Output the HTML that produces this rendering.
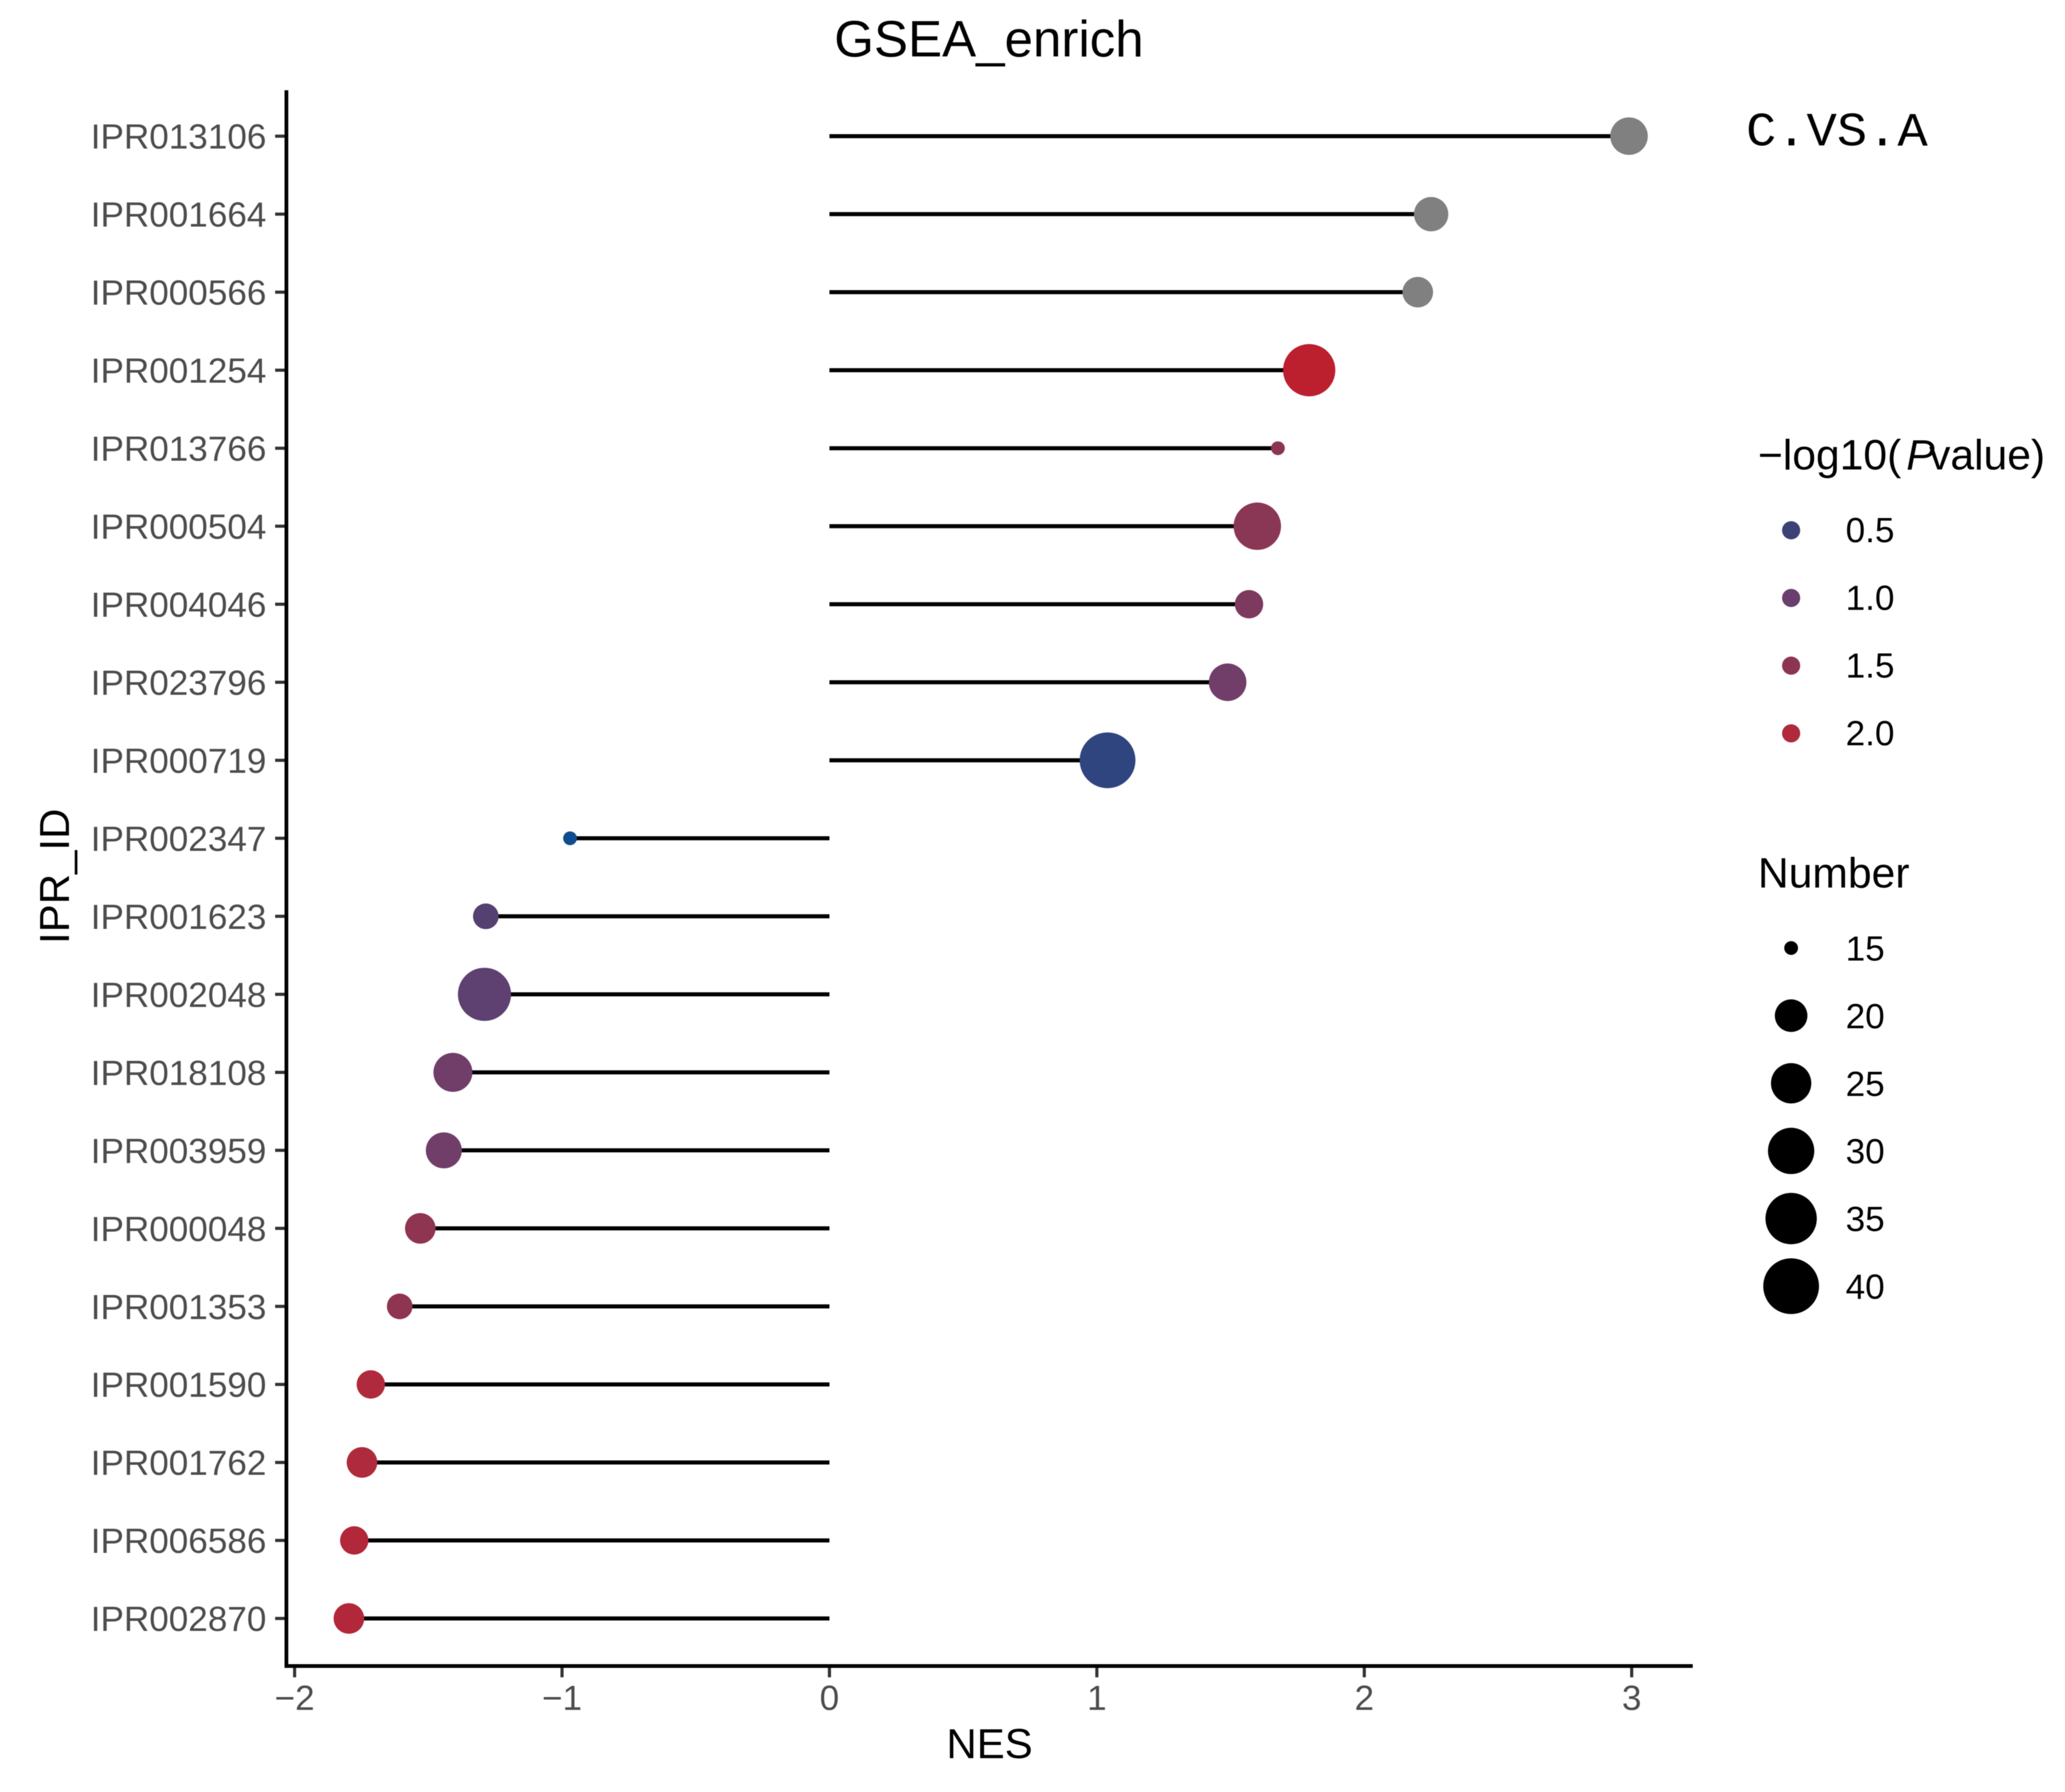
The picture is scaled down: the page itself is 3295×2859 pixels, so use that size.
<!DOCTYPE html>
<html lang="en">
<head>
<meta charset="utf-8">
<title>GSEA_enrich</title>
<style>
html,body{margin:0;padding:0;background:#fff;width:3295px;height:2859px;overflow:hidden}
svg{display:block;filter:blur(0.6px)}
text{font-family:"Liberation Sans",sans-serif}
</style>
</head>
<body>
<svg id="chart" xmlns="http://www.w3.org/2000/svg" width="3295" height="2859" viewBox="0 0 3295 2859">
  <rect width="3295" height="2859" fill="#ffffff"/>
  <text x="1578" y="90" font-size="81.5" text-anchor="middle" fill="#000">GSEA_enrich</text>
  <text transform="translate(110,1398) rotate(-90)" font-size="67" text-anchor="middle" fill="#000">IPR_ID</text>
  <text x="1579" y="2805" font-size="67" text-anchor="middle" fill="#000">NES</text>
  <text x="2786" y="232" font-size="76" textLength="290" lengthAdjust="spacingAndGlyphs" style="font-family:'Liberation Mono',monospace" fill="#000">C.VS.A</text>
  <text x="2805" y="749" font-size="68" fill="#000">−log10(<tspan dx="8" font-style="italic">P</tspan><tspan dx="-9">value)</tspan></text>
  <text x="2805" y="1416" font-size="68" fill="#000">Number</text>
  <g id="marks"></g>
  <g id="axes"></g>
  <g id="legend"></g>
</svg>
<script>
const categories = ["IPR013106","IPR001664","IPR000566","IPR001254","IPR013766","IPR000504","IPR004046","IPR023796","IPR000719","IPR002347","IPR001623","IPR002048","IPR018108","IPR003959","IPR000048","IPR001353","IPR001590","IPR001762","IPR006586","IPR002870"];
const nesValues = [2.99,2.25,2.20,1.794,1.677,1.60,1.569,1.489,1.04,-0.97,-1.285,-1.29,-1.408,-1.442,-1.53,-1.607,-1.715,-1.748,-1.777,-1.797];
const numberValues = [23,21,19,36,15,31,18,23,40,15,17,37,24,22,19,17,18,19,18,19];
const pValues = [null,null,null,2.2,1.5,1.47,1.3,1.1,0.4,0.15,0.78,0.87,1.1,1.1,1.55,1.55,2.0,2.0,2.05,2.05];
const xTicks = [-2,-1,0,1,2,3];
const colorLegendValues = [0.5,1.0,1.5,2.0];
const sizeLegendValues = [15,20,25,30,35,40];
const colorStopValues = [0.15,0.5,1.0,1.5,2.0,2.25];
const colorStopHex = ["#0f4c8f","#3b4278","#6a3f6e","#8c3553","#ae2a3c","#c01c2b"];

const SVGNS = "http://www.w3.org/2000/svg";
function xScale(v){ return 1323.5 + v * 426.7; }
function yScale(i){ return 217.2 + i * 124.47; }
function rScale(n){ return 11 + 33.5 * Math.sqrt(Math.max(0, (n - 15) / 25)); }
function hexToRgb(h){ return [1,3,5].map(function(p){ return parseInt(h.substr(p,2),16); }); }
function colorScale(v){
  if (v === null) return "#808080";
  if (v <= colorStopValues[0]) return colorStopHex[0];
  for (let k = 1; k < colorStopValues.length; k++) {
    if (v <= colorStopValues[k]) {
      const t = (v - colorStopValues[k-1]) / (colorStopValues[k] - colorStopValues[k-1]);
      const a = hexToRgb(colorStopHex[k-1]);
      const b = hexToRgb(colorStopHex[k]);
      return "rgb(" + a.map(function(c,j){ return Math.round(c + (b[j]-c)*t); }).join(",") + ")";
    }
  }
  return colorStopHex[colorStopHex.length-1];
}
function make(tag, parent, attrs, txt){
  const el = document.createElementNS(SVGNS, tag);
  for (const k in attrs) el.setAttribute(k, attrs[k]);
  if (txt !== undefined) el.textContent = txt;
  parent.appendChild(el);
  return el;
}
const marks = document.getElementById("marks");
const axes = document.getElementById("axes");
const legend = document.getElementById("legend");

categories.forEach(function(cat, i){
  const y = yScale(i);
  const seg = make("line", marks, {x1:xScale(0), x2:xScale(nesValues[i]), y1:y, y2:y, stroke:"#000", "stroke-width":6.5});
  
  
  const dot = make("circle", marks, {cx:xScale(nesValues[i]), cy:y, r:rScale(numberValues[i]), fill:colorScale(pValues[i])});
  
  
  const tick = make("line", axes, {x1:439, x2:457, y1:y, y2:y, stroke:"#333", "stroke-width":5});
  
  
  const lab = make("text", axes, {x:425, y:y+20, "font-size":56, "text-anchor":"end", fill:"#4d4d4d"}, cat);
  
  
});

xTicks.forEach(function(t){
  const x = xScale(t);
  const tick = make("line", axes, {x1:x, x2:x, y1:2658, y2:2676, stroke:"#333", "stroke-width":5});
  
  
  const lab = make("text", axes, {x:x, y:2728, "font-size":56, "text-anchor":"middle", fill:"#4d4d4d"}, (t < 0 ? "\u2212" + Math.abs(t) : String(t)));
  
  
});

const ySpine = make("line", axes, {x1:457, x2:457, y1:144, y2:2661, stroke:"#000", "stroke-width":6});


const xSpine = make("line", axes, {x1:454, x2:2701, y1:2658, y2:2658, stroke:"#000", "stroke-width":6});



colorLegendValues.forEach(function(v, i){
  const cy = 846 + i * 108;
  const key = make("circle", legend, {cx:2858, cy:cy, r:14.5, fill:colorScale(v)});
  
  
  const lab = make("text", legend, {x:2945, y:cy+19, "font-size":56, fill:"#000"}, v.toFixed(1));
  
  
});

sizeLegendValues.forEach(function(n, i){
  const cy = 1512.5 + i * 107.9;
  const key = make("circle", legend, {cx:2858, cy:cy, r:rScale(n), fill:"#000"});
  
  
  const lab = make("text", legend, {x:2945, y:cy+20, "font-size":56, fill:"#000"}, String(n));
  
  
});
</script>
</body>
</html>
